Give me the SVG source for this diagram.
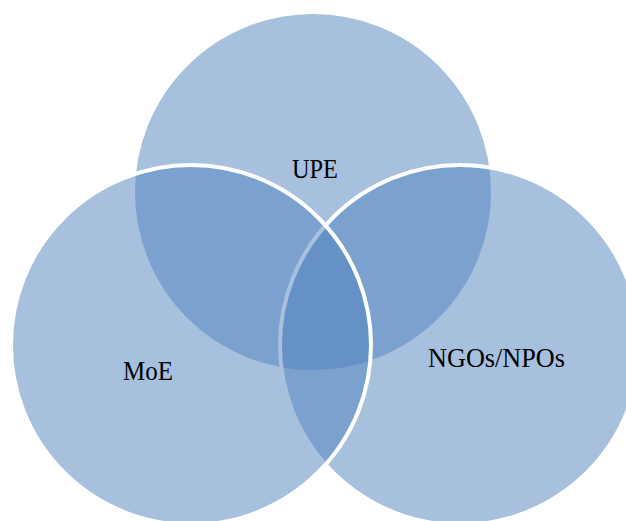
<svg xmlns="http://www.w3.org/2000/svg" width="626" height="521" viewBox="0 0 626 521">
  <style>
    .set { fill: #4f81bd; fill-opacity: 0.5; stroke: #ffffff; stroke-width: 4; }
    .lbl { font-family: "Liberation Serif", "DejaVu Serif", serif; font-size: 27px; fill: #000000; }
  </style>
  <rect width="626" height="521" fill="#ffffff"/>
  <g id="upe">
    <circle class="set" cx="313" cy="192" r="180"/>
  </g>
  <g id="ngos">
    <circle class="set" cx="460" cy="345" r="180"/>
  </g>
  <g id="moe">
    <circle class="set" cx="191" cy="345" r="180"/>
  </g>
  <g id="labels">
    <text class="lbl" x="292" y="178" textLength="46" lengthAdjust="spacingAndGlyphs">UPE</text>
    <text class="lbl" x="123" y="380" textLength="50" lengthAdjust="spacingAndGlyphs">MoE</text>
    <text class="lbl" x="428" y="367" textLength="137" lengthAdjust="spacingAndGlyphs">NGOs/NPOs</text>
  </g>
</svg>
